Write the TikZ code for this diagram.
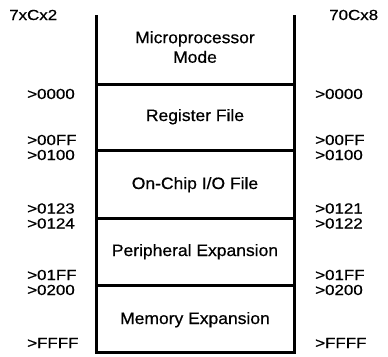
\documentclass[tikz,border=0pt]{standalone}
\usepackage{fontspec}
\setmainfont{Liberation Sans}
\newfontfamily\addrfont[FakeStretch=1.16, FakeBold=0.6]{Liberation Sans}
\newfontfamily\areafont[FakeStretch=1.06, FakeBold=0.6]{Liberation Sans}
\usetikzlibrary{positioning}
\tikzset{
    addr/.style={font=\addrfont\fontsize{14.6}{15}\selectfont, inner sep=0pt, anchor=base west},
    area/.style={font=\areafont\fontsize{16.5}{19.6}\selectfont, inner sep=0pt, anchor=base, align=center},
    wall/.style={line width=3pt, black, line join=miter},
    sep/.style={line width=3pt, black},
}

\begin{document}
\begin{tikzpicture}[x=1pt, y=-1pt]
\useasboundingbox (0,0) rectangle (388,356);

% Memory map outline (open at the top)
\coordinate (tl) at (96,15);
\coordinate (tr) at (294,15);
\coordinate (bl) at (96,352);
\coordinate (br) at (294,352);
\draw[wall] (tl) -- (bl) -- (br) -- (tr);

% Separators between the areas
\coordinate (s1l) at (96,84);    \coordinate (s1r) at (294,84);
\coordinate (s2l) at (96,150);   \coordinate (s2r) at (294,150);
\coordinate (s3l) at (96,218.5); \coordinate (s3r) at (294,218.5);
\coordinate (s4l) at (96,285.5); \coordinate (s4r) at (294,285.5);
\draw[sep] (s1l) -- (s1r);
\draw[sep] (s2l) -- (s2r);
\draw[sep] (s3l) -- (s3r);
\draw[sep] (s4l) -- (s4r);

% Areas
\node[area, anchor=north] (mode) at (195,31) {Microprocessor\\Mode};
\node[area] (reg) at (195,121) {Register File};
\node[area] (io) at (195,189) {On-Chip I/O File};
\node[area] (periph) at (195,256) {Peripheral Expansion};
\node[area] (mem) at (195,324) {Memory Expansion};

% Device names
\node[addr] (devl) at (9,20) {7xCx2};
\node[addr] (devr) at (329,20) {70Cx8};

% Addresses, 7xCx2 side
\node[addr] (la0) at (27,99) {>0000};
\node[addr] (la1) at (27,145) {>00FF};
\node[addr] (la2) at (27,160) {>0100};
\node[addr] (la3) at (27,213.5) {>0123};
\node[addr] (la4) at (27,228.5) {>0124};
\node[addr] (la5) at (27,280) {>01FF};
\node[addr] (la6) at (27,295) {>0200};
\node[addr] (la7) at (27,348) {>FFFF};

% Addresses, 70Cx8 side
\node[addr] (ra0) at (315,99) {>0000};
\node[addr] (ra1) at (315,145) {>00FF};
\node[addr] (ra2) at (315,160) {>0100};
\node[addr] (ra3) at (315,213.5) {>0121};
\node[addr] (ra4) at (315,228.5) {>0122};
\node[addr] (ra5) at (315,280) {>01FF};
\node[addr] (ra6) at (315,295) {>0200};
\node[addr] (ra7) at (315,348) {>FFFF};

\end{tikzpicture}
\end{document}
